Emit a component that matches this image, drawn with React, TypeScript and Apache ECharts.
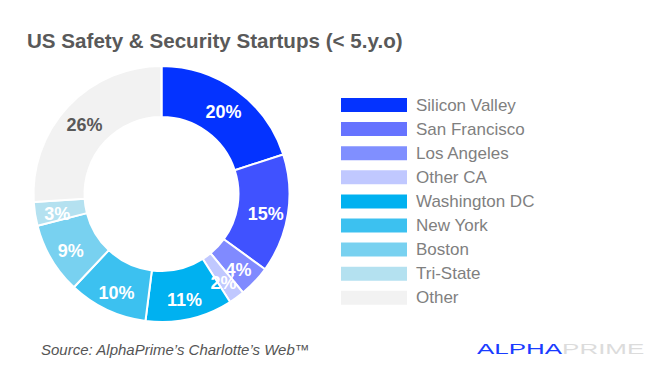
import React, { useEffect, useRef } from "react";
import * as echarts from "echarts";

const categories = [
  "Silicon Valley",
  "San Francisco",
  "Los Angeles",
  "Other CA",
  "Washington DC",
  "New York",
  "Boston",
  "Tri-State",
  "Other",
];
const values = [20, 15, 4, 2, 11, 10, 9, 3, 26];
const sliceColors = [
  "#0433ff",
  "#4052ff",
  "#808aff",
  "#c0c8ff",
  "#00b1f0",
  "#3cc1f0",
  "#78d1f0",
  "#b4e1f0",
  "#f2f2f2",
];
const legendColors = [
  "#0433ff",
  "#6673ff",
  "#808fff",
  "#c0c8ff",
  "#00b1f0",
  "#3cc1f0",
  "#78d1f0",
  "#b4e1f0",
  "#f2f2f2",
];
const titleText = "US Safety & Security Startups (< 5.y.o)";
const sourceText = "Source: AlphaPrime\u2019s Charlotte\u2019s Web\u2122";

const FONT = "'Liberation Sans', Arial, Helvetica, sans-serif";

export default function App() {
  const ref = useRef<HTMLDivElement>(null);
  useEffect(() => {
    document.body.style.margin = "0";
    const chart = echarts.init(ref.current!, null, { renderer: "svg" });
    chart.setOption({
      animation: false,
      backgroundColor: "#ffffff",
      textStyle: { fontFamily: FONT },
      legend: {
        orient: "vertical",
        left: 339,
        top: 96,
        padding: 0,
        itemWidth: 68,
        itemHeight: 16,
        itemGap: 6.1,
        icon: "rect",
        selectedMode: false,
        textStyle: {
          fontFamily: FONT,
          fontSize: 17,
          color: "#7f7f7f",
          padding: [0, 0, 0, 3],
        },
        data: categories.map((name, i) => ({
          name,
          itemStyle: { color: legendColors[i] },
        })),
      },
      graphic: [
        {
          type: "text",
          left: 27,
          top: 30,
          style: {
            text: titleText,
            fontFamily: FONT,
            fontSize: 20.6,
            fontWeight: "bold",
            fill: "#595959",
          },
        },
        {
          type: "text",
          left: 41,
          top: 342,
          style: {
            text: sourceText,
            fontFamily: FONT,
            fontSize: 15,
            fontStyle: "italic",
            fill: "#555555",
          },
        },
        {
          type: "text",
          x: 477,
          y: 349,
          scaleX: 1.73,
          style: {
            text: "{a|ALPHA}{b|PRIME}",
            fontFamily: FONT,
            fontSize: 15,
            verticalAlign: "middle",
            rich: {
              a: { fontFamily: FONT, fontSize: 15, fill: "#1a3cff", color: "#1a3cff" },
              b: { fontFamily: FONT, fontSize: 15, fill: "#dcdcdc", color: "#dcdcdc" },
            },
          },
        },
      ],
      series: [
        {
          type: "pie",
          center: [161.5, 194],
          radius: [77, 128],
          startAngle: 90,
          clockwise: true,
          avoidLabelOverlap: false,
          minShowLabelAngle: 0,
          labelLayout: { hideOverlap: false, dy: 3.5 },
          itemStyle: { borderColor: "#ffffff", borderWidth: 2 },
          label: {
            show: true,
            position: "inside",
            formatter: "{c}%",
            fontFamily: FONT,
            fontSize: 18,
            fontWeight: "bold",
            color: "#ffffff",
          },
          labelLine: { show: false },
          emphasis: { disabled: true },
          data: categories.map((name, i) => ({
            name,
            value: values[i],
            itemStyle: { color: sliceColors[i] },
            label: i === categories.length - 1 ? { color: "#595959" } : undefined,
          })),
        },
      ],
    });
    return () => chart.dispose();
  }, []);
  return <div ref={ref} style={{ width: 664, height: 389 }} />;
}
